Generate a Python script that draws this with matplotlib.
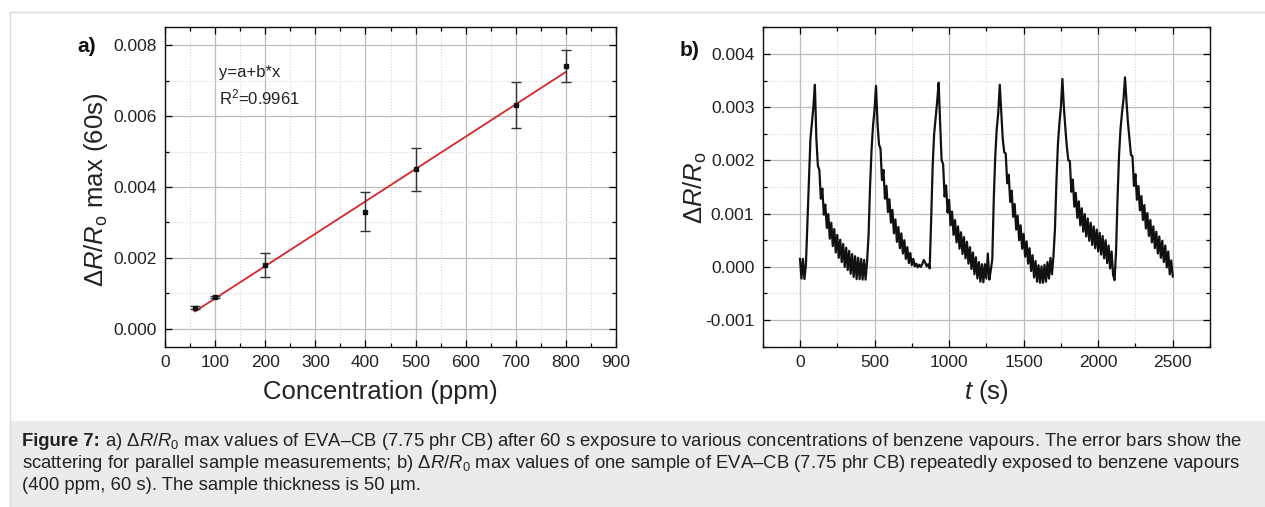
import numpy as np
import matplotlib
matplotlib.use("Agg")
import matplotlib.pyplot as plt
from matplotlib.lines import Line2D
from matplotlib.patches import Rectangle
from matplotlib.ticker import MultipleLocator, FormatStrFormatter

plt.rcParams['font.family'] = ['Liberation Sans', 'DejaVu Sans']
plt.rcParams['mathtext.fontset'] = 'custom'
plt.rcParams['mathtext.rm'] = 'Liberation Sans'
plt.rcParams['mathtext.it'] = 'Liberation Sans:italic'
plt.rcParams['mathtext.bf'] = 'Liberation Sans:bold'
plt.rcParams['axes.unicode_minus'] = False

# ---------------- data ----------------
# panel a
conc_ppm = [60, 100, 200, 400, 500, 700, 800]
resp_max = [0.0006, 0.0009, 0.0018, 0.0033, 0.0045, 0.0063, 0.0074]
resp_err = [0.00004, 0.00003, 0.00035, 0.00055, 0.0006, 0.00065, 0.00045]
fit_text = ["y=a+b*x", r"R$^2$=0.9961"]
xticks_a = [0, 100, 200, 300, 400, 500, 600, 700, 800, 900]
yticks_a = [0.000, 0.002, 0.004, 0.006, 0.008]

# panel b (response in units of 1e-6, sampled every 10 s from 0 to 2500 s)
time_s = list(range(0, 2510, 10))
resp_b_u = [
    150, -220, 150, -230, 50, 850, 1700, 2400, 2700, 3000,
    3420, 2400, 1900, 1820, 1280, 1470, 980, 1170, 730, 990,
    530, 830, 390, 710, 270, 600, 170, 510, 90, 430,
    0, 360, -60, 300, -130, 240, -190, 200, -230, 170,
    -230, 150, -240, 130, -240, 100, 600, 1500, 2200, 2650,
    2950, 3400, 2700, 2300, 2220, 1630, 1820, 1280, 1520, 1030,
    1270, 830, 1070, 630, 890, 470, 750, 350, 630, 250,
    500, 150, 370, 70, 260, 30, 150, 10, 60, -10,
    40, 0, 50, 130, 80, 10, 50, -30, 900, 1900,
    2500, 2800, 3100, 3460, 2700, 2000, 1930, 1320, 1530, 1020,
    1260, 780, 1040, 600, 880, 460, 760, 340, 650, 240,
    560, 160, 470, 60, 370, -40, 270, -140, 180, -220,
    90, -280, 50, -290, 50, -220, 250, -240, -60, 150,
    1300, 2100, 2600, 2900, 3420, 2900, 2400, 2150, 2130, 1570,
    1730, 1220, 1430, 940, 1180, 700, 960, 500, 780, 340,
    620, 190, 480, 60, 350, -80, 220, -200, 110, -280,
    30, -300, 10, -300, 40, -280, 90, -220, 170, -140,
    200, 700, 1600, 2300, 2700, 3000, 3530, 3000, 2600, 2250,
    2000, 1990, 1410, 1640, 1130, 1390, 920, 1230, 780, 1100,
    660, 990, 570, 910, 490, 830, 410, 760, 350, 700,
    290, 640, 230, 580, 160, 500, 70, 400, -30, 290,
    -150, -250, 300, 1300, 2100, 2600, 2900, 3150, 3560, 3100,
    2700, 2400, 2100, 2080, 1520, 1740, 1260, 1520, 1060, 1330,
    880, 1160, 720, 1010, 580, 880, 460, 760, 350, 660,
    250, 570, 170, 490, 90, 400, -10, 290, -140, 120,
    -180,
]
xticks_b = [0, 500, 1000, 1500, 2000, 2500]
yticks_b = [-0.001, 0.000, 0.001, 0.002, 0.003, 0.004]

caption_bold = "Figure 7:"
caption_lines = [
    r" a) $\Delta\mathit{R}/\mathit{R}_0$ max values of EVA–CB (7.75 phr CB) after 60 s exposure to various concentrations of benzene vapours. The error bars show the",
    r"scattering for parallel sample measurements; b) $\Delta\mathit{R}/\mathit{R}_0$ max values of one sample of EVA–CB (7.75 phr CB) repeatedly exposed to benzene vapours",
    "(400 ppm, 60 s). The sample thickness is 50 µm.",
]

# ---------------- figure ----------------
W, H = 1265, 507
fig = plt.figure(figsize=(W / 100, H / 100), dpi=100)
fig.patch.set_facecolor('white')

# frame and caption box
fig.add_artist(Rectangle((9.5 / W, 0), 1, (H - 421) / H, transform=fig.transFigure,
                         facecolor='#ebebeb', edgecolor='none', zorder=0))
fig.add_artist(Line2D([9.5 / W, 9.5 / W], [0, 1 - 11.5 / H], transform=fig.transFigure,
                      color='#dadada', lw=1.0))
fig.add_artist(Line2D([9.5 / W, 1], [1 - 11.5 / H, 1 - 11.5 / H], transform=fig.transFigure,
                      color='#dadada', lw=1.0))

tick_col = '#222222'


def style_axes(ax):
    ax.tick_params(which='both', direction='in', top=True, right=True,
                   labelsize=12.5, labelcolor=tick_col, width=0.9, pad=6)
    ax.tick_params(which='major', length=5)
    ax.tick_params(which='minor', length=3)
    ax.grid(which='major', color='#bcbcbc', lw=0.9, ls='-', zorder=0)
    ax.grid(which='minor', color='#d6d6d6', lw=0.8, ls=':', zorder=0)
    ax.set_axisbelow(True)
    for s in ax.spines.values():
        s.set_linewidth(1.0)
        s.set_color('#111111')


top_px, bot_px = 27.3, 346.7

# ---- panel a ----
axa = fig.add_axes([165 / W, 1 - bot_px / H, (616 - 165) / W, (bot_px - top_px) / H])
style_axes(axa)
axa.set_xlim(0, 900)
axa.set_ylim(-0.0005, 0.0085)
axa.set_xticks(xticks_a)
axa.set_yticks(yticks_a)
axa.xaxis.set_minor_locator(MultipleLocator(50))
axa.yaxis.set_minor_locator(MultipleLocator(0.001))
axa.yaxis.set_major_formatter(FormatStrFormatter('%.3f'))

coef = np.polyfit(conc_ppm, resp_max, 1)
xf = np.array([min(conc_ppm), max(conc_ppm)])
axa.plot(xf, np.polyval(coef, xf), color='#d7262b', lw=1.3, zorder=3)
axa.errorbar(conc_ppm, resp_max, yerr=resp_err, fmt='s', ms=3.2, color='#111111',
             ecolor='#333333', elinewidth=1.0, capsize=3.5, capthick=1.0, zorder=4)

axa.text(0.12, 0.857, fit_text[0], transform=axa.transAxes, fontsize=12,
         color=tick_col, va='center', ha='left')
axa.text(0.12, 0.779, fit_text[1], transform=axa.transAxes, fontsize=12,
         color=tick_col, va='center', ha='left')

fig.text(380 / W, 1 - 392 / H, "Concentration (ppm)", fontsize=18.5, ha='center',
         va='center', color=tick_col)
fig.text(96 / W, 1 - 190 / H, r"$\Delta\mathit{R}/\mathit{R}_\mathrm{o}$ max (60s)",
         fontsize=18.5, ha='center', va='center', rotation=90, color=tick_col)
fig.text(87 / W, 1 - 47 / H, "a)", fontsize=15, fontweight='bold', ha='center',
         va='center', color='#111111')

# ---- panel b ----
axb = fig.add_axes([762.7 / W, 1 - bot_px / H, (1210 - 762.7) / W, (bot_px - top_px) / H])
style_axes(axb)
axb.set_xlim(-250, 2750)
axb.set_ylim(-0.0015, 0.0045)
axb.set_xticks(xticks_b)
axb.set_yticks(yticks_b)
axb.xaxis.set_minor_locator(MultipleLocator(250))
axb.yaxis.set_minor_locator(MultipleLocator(0.0005))
axb.yaxis.set_major_formatter(FormatStrFormatter('%.3f'))
axb.plot(time_s, np.array(resp_b_u) * 1e-6, color='#111111', lw=1.6, zorder=3)

fig.text(986 / W, 1 - 392 / H, r"$\mathit{t}$ (s)", fontsize=18.5, ha='center',
         va='center', color=tick_col)
fig.text(695 / W, 1 - 188 / H, r"$\Delta\mathit{R}/\mathit{R}_\mathrm{o}$",
         fontsize=18.5, ha='center', va='center', rotation=90, color=tick_col)
fig.text(690 / W, 1 - 51 / H, "b)", fontsize=15, fontweight='bold', ha='center',
         va='center', color='#111111')

# ---- caption ----
cap_fs = 13.3
x0 = 22 / W
renderer = fig.canvas.get_renderer()
tb = fig.text(x0, 1 - 446 / H, caption_bold, fontsize=cap_fs, fontweight='bold',
              ha='left', va='baseline', color='#222222')
bb = tb.get_window_extent(renderer=renderer)
for i, line in enumerate(caption_lines):
    xs = (bb.x1 / W) if i == 0 else x0
    fig.text(xs, 1 - (446 + 22 * i) / H, line, fontsize=cap_fs, ha='left',
             va='baseline', color='#222222')

fig.savefig("out.png", dpi=100)
